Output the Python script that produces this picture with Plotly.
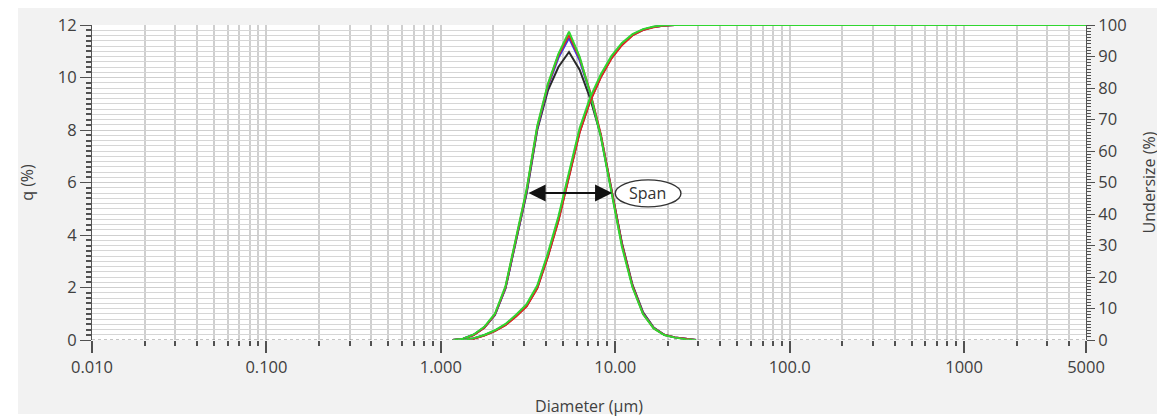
import math
import plotly.graph_objects as go

# ---------------- data ----------------
diameter = [1.167, 1.342, 1.544, 1.775, 2.041, 2.348, 2.700, 3.105, 3.570, 4.106,
            4.722, 5.430, 6.245, 7.181, 8.258, 9.497, 10.92, 12.56, 14.44, 16.61,
            19.10, 21.97, 25.26, 29.05]

q_black = [0, 0.05, 0.20, 0.48, 0.95, 1.97, 3.80, 5.60, 8.00, 9.50, 10.40, 10.97,
           10.30, 9.20, 7.80, 5.75, 3.70, 2.10, 1.05, 0.47, 0.20, 0.10, 0.04, 0]
q_blue = [0, 0.05, 0.20, 0.47, 0.95, 1.97, 3.80, 5.65, 8.05, 9.65, 10.75, 11.50,
          10.65, 9.40, 7.80, 5.70, 3.65, 2.05, 1.02, 0.46, 0.20, 0.10, 0.05, 0]
q_red = [0, 0.04, 0.19, 0.47, 0.97, 2.00, 3.85, 5.70, 8.10, 9.70, 10.85, 11.62,
         10.75, 9.45, 7.85, 5.70, 3.65, 2.05, 1.00, 0.45, 0.20, 0.10, 0.04, 0]
q_green = [0, 0.05, 0.21, 0.50, 1.00, 2.05, 3.90, 5.75, 8.15, 9.75, 10.90, 11.75,
           10.80, 9.40, 7.75, 5.60, 3.55, 2.00, 0.98, 0.44, 0.19, 0.09, 0.03, 0]

diameter_cum = diameter + [5000]
u_black = [0, 0, 0.5, 1.5, 2.9, 4.8, 7.6, 10.8, 16.5, 26.5, 38.0, 52.0, 66.0, 76.0,
           83.5, 89.5, 93.8, 96.8, 98.5, 99.4, 99.85, 100, 100, 100, 100]
u_blue = [0, 0, 0.5, 1.5, 3.0, 4.9, 7.7, 11.0, 16.8, 26.9, 38.5, 52.5, 66.4, 76.3,
          83.7, 89.6, 93.9, 96.9, 98.5, 99.4, 99.85, 100, 100, 100, 100]
u_red = [0, 0, 0.4, 1.4, 2.8, 4.7, 7.5, 10.7, 16.4, 26.4, 37.8, 51.8, 65.8, 75.8,
         83.3, 89.3, 93.6, 96.7, 98.4, 99.3, 99.8, 100, 100, 100, 100]
u_green = [0, 0, 0.6, 1.6, 3.1, 5.1, 8.0, 11.4, 17.3, 27.5, 39.2, 53.3, 67.2, 77.0,
           84.3, 90.1, 94.3, 97.1, 98.7, 99.5, 99.9, 100, 100, 100, 100]

x_major_ticks = [0.01, 0.1, 1, 10, 100, 1000, 5000]
x_major_labels = ["0.010", "0.100", "1.000", "10.00", "100.0", "1000", "5000"]
x_minor_ticks = [m * 10 ** k for k in range(-2, 3) for m in range(2, 10)] + [2000, 3000, 4000]

span_left, span_right, span_level = 3.12, 9.6, 5.6

# ---------------- figure ----------------
# the page has an 8px body margin, so the figure is laid out 8px in from the window edge
OFF = 8
W, H = 1165 - OFF, 418 - OFF
L, T = 92 - OFF, 25 - OFF
pw, ph = 994, 315
R, B = W - L - pw, H - T - ph

fig = go.Figure()
series = [("black", "#2a2a2a", q_black, u_black),
          ("blue", "#3b3be0", q_blue, u_blue),
          ("red", "#e32222", q_red, u_red),
          ("green", "#30d630", q_green, u_green)]
for name, col, q, u in series:
    fig.add_trace(go.Scatter(x=diameter_cum, y=u, mode="lines", yaxis="y2",
                             line=dict(color=col, width=2), showlegend=False,
                             hoverinfo="skip"))
for name, col, q, u in series:
    fig.add_trace(go.Scatter(x=diameter, y=q, mode="lines", yaxis="y",
                             line=dict(color=col, width=2), showlegend=False,
                             hoverinfo="skip"))

font_col = "#404040"
FAM = "Open Sans, sans-serif"
tick_font = dict(family=FAM, size=16.5, color=font_col)
title_font = dict(family=FAM, size=16, color=font_col)

fig.update_layout(
    width=W, height=H,
    margin=dict(l=L, r=R, t=T, b=B, pad=0, autoexpand=False),
    paper_bgcolor="white",
    plot_bgcolor="rgba(0,0,0,0)",
    font=dict(family=FAM, size=16, color=font_col),
    xaxis=dict(
        type="log", range=[math.log10(0.01), math.log10(5000)],
        tickmode="array", tickvals=x_major_ticks, ticktext=x_major_labels,
        ticks="outside", ticklen=12, tickwidth=1.6, tickcolor="#505050",
        showgrid=True, gridcolor="#cfcfcf", gridwidth=1.5,
        showline=False, zeroline=False, tickfont=tick_font, automargin=False,
        minor=dict(tickmode="array", tickvals=x_minor_ticks, ticks="outside",
                   ticklen=5, tickwidth=1.6, tickcolor="#505050",
                   showgrid=True, gridcolor="#cfcfcf", gridwidth=1.5),
        title=dict(text="Diameter (µm)", standoff=24, font=title_font),
    ),
    yaxis=dict(
        range=[0, 12], dtick=2, tick0=0,
        ticks="outside", ticklen=11, tickwidth=1.4, tickcolor="#505050",
        showline=True, linecolor="#555", linewidth=1,
        showgrid=True, gridcolor="#cfcfcf", gridwidth=1,
        zeroline=False, tickfont=tick_font, automargin=False,
        minor=dict(dtick=0.2, ticks="outside", ticklen=5, tickwidth=1.6,
                   tickcolor="#505050", showgrid=True, gridcolor="#d6d6d6", gridwidth=1),
        title=dict(text="q (%)", standoff=20, font=title_font),
    ),
    yaxis2=dict(
        range=[0, 100], dtick=10, tick0=0, overlaying="y", side="right",
        ticks="outside", ticklen=8, tickwidth=1.4, tickcolor="#505050",
        showline=True, linecolor="#555", linewidth=1,
        showgrid=False, zeroline=False, tickfont=tick_font, automargin=False,
        minor=dict(dtick=1, ticks="outside", ticklen=4, tickwidth=1.2,
                   tickcolor="#505050", showgrid=False),
        title=dict(text="Undersize (%)", standoff=18, font=title_font),
    ),
)

# panel background and white plotting area
fig.add_shape(type="rect", xref="paper", yref="paper", layer="below",
              x0=(18 - OFF - L) / pw, x1=(1159 - OFF - L) / pw,
              y0=(T + ph - (414 - OFF)) / ph, y1=(T + ph + 2) / ph,
              fillcolor="#f2f2f2", line=dict(width=0))
fig.add_shape(type="rect", xref="paper", yref="paper", layer="below",
              x0=0, x1=1, y0=0, y1=1, fillcolor="white", line=dict(width=0))

# dashed zero line
fig.add_shape(type="line", xref="paper", yref="y", x0=0, x1=1, y0=0, y1=0,
              line=dict(color="#8a8a8a", width=1.2, dash="3px,3px"))

# Span arrow
fig.add_annotation(x=math.log10(span_right), y=span_level,
                   ax=math.log10(span_left), ay=span_level,
                   xref="x", yref="y", axref="x", ayref="y",
                   text="", showarrow=True, arrowhead=2, startarrowhead=2,
                   arrowside="end+start", arrowsize=1.9, startarrowsize=1.9,
                   arrowwidth=1.8, arrowcolor="#111")

# Span ellipse + label
fig.add_shape(type="circle", xref="x", yref="y",
              x0=10.0, x1=23.8, y0=5.07, y1=6.1,
              line=dict(color="#333", width=1.4), fillcolor="white")
fig.add_annotation(x=math.log10(15.4), y=5.6, xref="x", yref="y",
                   text="Span", showarrow=False,
                   font=dict(family=FAM, size=16, color="#333"))

fig.write_html("out.html")
